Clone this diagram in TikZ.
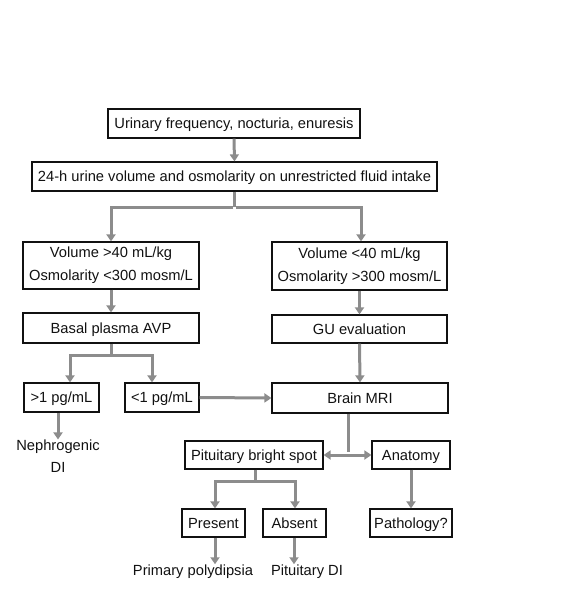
\documentclass[tikz,border=0pt]{standalone}
\usepackage{fontspec}
\setmainfont{Liberation Sans}
\usetikzlibrary{arrows.meta}
\definecolor{conn}{HTML}{8C8C8C}
\definecolor{ink}{HTML}{111111}
\begin{document}
\begin{tikzpicture}[x=1pt,y=-1pt,
  box/.style={draw=ink, line width=1.2pt, rectangle, inner sep=0pt, align=center,
    text=ink, font=\fontsize{14.7}{23}\selectfont, text height=10.6pt, text depth=0.5pt},
  box2/.style={draw=ink, line width=1.2pt, rectangle, inner sep=0pt, align=center,
    text=ink, font=\fontsize{14.7}{23}\selectfont},
  lbl/.style={inner sep=0pt, align=center, text=ink, font=\fontsize{14.7}{22}\selectfont},
  link/.style={draw=conn, line width=3pt},
  arr/.style={link, -{Triangle[width=9pt,length=7pt]}},
  darr/.style={link, {Triangle[width=9pt,length=7pt]}-{Triangle[width=9pt,length=7pt]}}]
\useasboundingbox (0,0) rectangle (570,600);
\node[box, minimum width=252, minimum height=29] (b1) at (234,123.5) {Urinary frequency, nocturia, enuresis};
\node[box, minimum width=405, minimum height=29] (b2) at (234.5,176.5) {24-h urine volume and osmolarity on unrestricted fluid intake};
\node[box2, minimum width=176, minimum height=47] (b3) at (111,265.5) {Volume {>}40 mL/kg\\Osmolarity {<}300 mosm/L};
\node[box2, minimum width=175, minimum height=48] (b4) at (359.5,266) {Volume {<}40 mL/kg\\Osmolarity {>}300 mosm/L};
\node[box, minimum width=176, minimum height=30] (basal) at (111,328) {Basal plasma AVP};
\node[box, minimum width=175, minimum height=28] (gu) at (359.5,329) {GU evaluation};
\node[box, minimum width=176, minimum height=30] (mri) at (360,398) {Brain MRI};
\node[box, minimum width=75, minimum height=29] (g1) at (61.5,397.5) {{>}1 pg/mL};
\node[box, minimum width=74, minimum height=29] (g2) at (162,397.5) {{<}1 pg/mL};
\node[lbl] (neph) at (58,456) {Nephrogenic\\DI};
\node[box, minimum width=138, minimum height=28] (pit) at (254,455) {Pituitary bright spot};
\node[box, minimum width=78, minimum height=28] (anat) at (411,455) {Anatomy};
\node[box, minimum width=63, minimum height=28] (pres) at (213.5,523) {Present};
\node[box, minimum width=63, minimum height=28] (abs) at (294.5,523) {Absent};
\node[box, minimum width=82, minimum height=28] (path) at (411,523) {Pathology?};
\node[lbl, text height=10.6pt, text depth=0.5pt] (pp) at (193,570) {Primary polydipsia};
\node[lbl, text height=10.6pt, text depth=0.5pt] (pdi) at (307,570) {Pituitary DI};
% connectors
\draw[arr] (b1.south) -- (b2.north);
\coordinate (s1) at (234.5,207);
\draw[link] (b2.south) -- (s1);
\draw[arr] ([xshift=-1.5pt]s1) -| (b3.north);
\draw[arr] ([xshift=1.5pt]s1) -| ([xshift=1.5]b4.north);
\draw[arr] (b3.south) -- (basal.north);
\draw[arr] (b4.south) -- (gu.north);
\draw[arr] (gu.south) -- (mri.north);
\coordinate (s2) at (111,355);
\draw[link] (basal.south) -- (s2);
\draw[arr] ([xshift=1.5pt]s2) -| ([xshift=8.5]g1.north);
\draw[arr] ([xshift=-1.5pt]s2) -| ([xshift=-10]g2.north);
\draw[arr] ([xshift=-3.5]g1.south) -- ([xshift=-3.5]g1.south |- neph.north);
\draw[arr] (g2.east) -- (mri.west);
\coordinate (s3) at (348,453);
\draw[link] ([xshift=-12]mri.south) -- ([yshift=1.5pt]s3);
\draw[darr] (pit.east) -- (anat.west);
\coordinate (s4) at (255,481);
\draw[link] ([xshift=1]pit.south) -- (s4);
\draw[arr] ([xshift=1.5pt]s4) -| ([xshift=1.5]pres.north);
\draw[arr] ([xshift=-1.5pt]s4) -| ([xshift=0.5]abs.north);
\draw[arr] (anat.south) -- (path.north);
\draw[arr] ([xshift=1.5]pres.south) -- ([xshift=1.5]pres.south |- pp.north);
\draw[arr] ([xshift=-0.5]abs.south) -- ([xshift=-0.5]abs.south |- pdi.north);
\end{tikzpicture}
\end{document}
